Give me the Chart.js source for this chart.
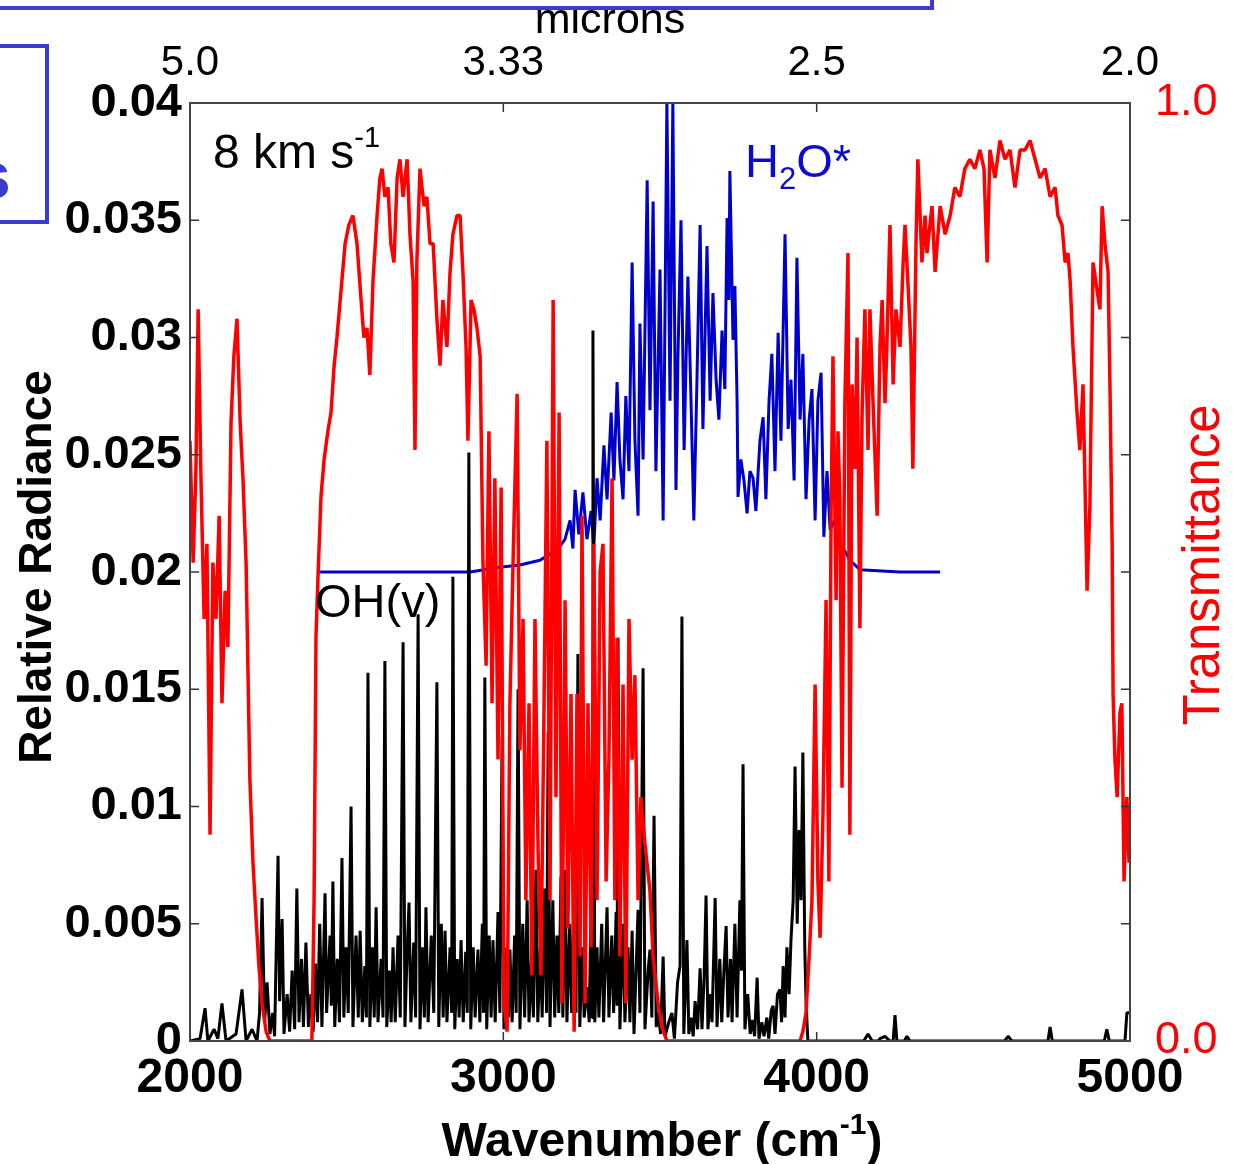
<!DOCTYPE html>
<html>
<head>
<meta charset="utf-8">
<script src="https://cdn.jsdelivr.net/npm/chart.js"></script>
<style>
  html, body { margin: 0; padding: 0; background: #fff; }
  #wrap { width: 1233px; height: 1164px; }
</style>
</head>
<body>
<div id="wrap"><canvas id="spec" width="1233" height="1164"></canvas></div>
<script>
// Transmittance (red, right axis)
var transWn = [2000,2010,2019,2026,2035,2045,2054,2064,2073,2083,2093,2102,2112,2121,2131,2140,2150,2160,2169,2179,
  2191,2201,2211,2220,2230,2243,2255,2319,2389,2396,2402,2409,2418,2428,2440,2450,2460,2469,2482,2495,
  2507,2520,2533,2546,2555,2565,2574,2584,2597,2606,2613,2622,2632,2641,2651,2661,2670,2680,2693,2702,
  2712,2718,2724,2734,2747,2756,2766,2776,2788,2798,2807,2820,2830,2839,2852,2862,2871,2881,2887,2897,
  2906,2916,2926,2935,2945,2954,2964,2973,2983,2993,3002,3012,3021,3031,3044,3053,3063,3072,3082,3091,
  3101,3111,3120,3130,3139,3149,3159,3168,3178,3187,3197,3206,3216,3226,3235,3245,3251,3261,3270,3280,
  3289,3299,3309,3318,3328,3337,3347,3356,3363,3372,3382,3391,3401,3411,3420,3430,3439,3452,3468,3478,
  3494,3506,3522,3947,3956,3966,3976,3985,3995,4004,4011,4020,4030,4039,4046,4052,4062,4068,4074,4081,
  4090,4100,4106,4113,4122,4129,4138,4145,4154,4164,4170,4180,4193,4202,4209,4218,4224,4234,4244,4253,
  4266,4276,4282,4291,4301,4307,4317,4323,4336,4346,4352,4368,4378,4394,4410,4426,4441,4457,4473,4489,
  4505,4521,4534,4544,4553,4569,4585,4601,4617,4633,4649,4665,4681,4697,4713,4729,4745,4761,4770,4783,
  4793,4802,4809,4818,4831,4840,4850,4856,4863,4872,4882,4895,4904,4911,4920,4930,4936,4943,4946,4952,
  4959,4968,4974,4981,4990,4997];
var transVal = [0.64,0.51,0.61,0.78,0.60,0.45,0.53,0.22,0.51,0.45,0.56,0.36,0.48,0.42,0.66,0.73,0.77,0.66,0.60,0.51,
  0.28,0.19,0.13,0.08,0.04,0.01,0.0,0.0,0.0,0.15,0.43,0.50,0.58,0.62,0.65,0.67,0.72,0.75,0.80,0.85,
  0.87,0.88,0.85,0.79,0.75,0.76,0.71,0.81,0.88,0.92,0.93,0.90,0.91,0.85,0.83,0.92,0.94,0.90,0.94,0.86,
  0.81,0.63,0.83,0.93,0.89,0.90,0.85,0.85,0.77,0.72,0.79,0.74,0.82,0.86,0.88,0.88,0.82,0.74,0.64,0.79,
  0.78,0.76,0.73,0.51,0.40,0.65,0.36,0.60,0.30,0.59,0.04,0.01,0.36,0.51,0.69,0.31,0.45,0.15,0.36,0.07,
  0.45,0.20,0.07,0.36,0.64,0.15,0.79,0.26,0.67,0.04,0.47,0.12,0.37,0.01,0.37,0.09,0.56,0.04,0.36,0.10,
  0.53,0.15,0.50,0.53,0.17,0.30,0.60,0.15,0.43,0.09,0.38,0.04,0.45,0.30,0.39,0.15,0.26,0.21,0.16,0.09,
  0.04,0.015,0.0,0.0,0.01,0.03,0.09,0.15,0.38,0.17,0.11,0.24,0.47,0.17,0.56,0.73,0.47,0.65,0.58,0.27,
  0.68,0.84,0.22,0.70,0.61,0.75,0.44,0.67,0.78,0.63,0.78,0.68,0.56,0.74,0.79,0.68,0.74,0.87,0.70,0.78,
  0.74,0.83,0.87,0.81,0.74,0.61,0.85,0.94,0.83,0.88,0.84,0.89,0.82,0.89,0.86,0.88,0.91,0.90,0.93,0.94,
  0.93,0.95,0.93,0.83,0.95,0.92,0.96,0.94,0.95,0.91,0.95,0.95,0.96,0.94,0.92,0.93,0.90,0.91,0.88,0.87,
  0.83,0.84,0.81,0.74,0.67,0.63,0.70,0.60,0.48,0.57,0.83,0.80,0.78,0.89,0.85,0.82,0.70,0.53,0.37,0.30,
  0.26,0.35,0.36,0.17,0.26,0.19];

// H2O* emission (blue, left axis)
var h2oWn = [2405,2894,2989,3053,3117,3165,3181,3197,3213,3222,3229,3241,3254,3267,3280,3289,3299,3309,3321,3331,
  3344,3353,3363,3372,3382,3391,3401,3411,3420,3430,3436,3446,3459,3468,3478,3487,3500,3510,3522,3532,
  3541,3551,3557,3567,3577,3589,3599,3608,3618,3628,3637,3650,3660,3669,3679,3688,3698,3707,3714,3720,
  3723,3733,3739,3746,3749,3758,3768,3778,3787,3797,3806,3819,3829,3838,3848,3857,3867,3877,3886,3899,
  3909,3918,3928,3937,3947,3956,3966,3976,3985,3995,4004,4014,4023,4033,4043,4058,4074,4090,4106,4122,
  4138,4266,4394];
var h2oRad = [0.0200,0.0200,0.0202,0.0203,0.0205,0.0209,0.0211,0.0214,0.0222,0.0210,0.0235,0.0216,0.0234,0.0214,0.0226,0.0211,0.0240,0.0222,0.0254,0.0231,
  0.0268,0.0239,0.0281,0.0248,0.0231,0.0275,0.0243,0.0332,0.0256,0.0224,0.0306,0.0248,0.0367,0.0269,0.0358,0.0243,0.0329,0.0222,0.0400,0.0273,
  0.0400,0.0235,0.0290,0.0350,0.0252,0.0326,0.0273,0.0222,0.0282,0.0348,0.0261,0.0339,0.0273,0.0319,0.0282,0.0265,0.0303,0.0278,0.0351,0.0316,
  0.0371,0.0299,0.0322,0.0273,0.0232,0.0248,0.0239,0.0225,0.0243,0.0240,0.0226,0.0256,0.0266,0.0231,0.0273,0.0293,0.0243,0.0302,0.0256,0.0344,
  0.0261,0.0282,0.0239,0.0334,0.0265,0.0293,0.0231,0.0265,0.0278,0.0222,0.0273,0.0285,0.0215,0.0243,0.0218,0.0222,0.0211,0.0209,0.0205,0.0203,
  0.0201,0.0200,0.0200];

// OH(v) emission (black, left axis)
var ohWn = [2000,2032,2048,2057,2077,2089,2102,2115,2147,2166,2179,2198,2214,2222,2230,2238,2246,2255,2264,2270,
  2281,2286,2294,2300,2310,2318,2326,2334,2341,2348,2356,2362,2370,2378,2386,2393,2400,2407,2414,2421,
  2431,2436,2447,2451,2456,2462,2470,2477,2485,2491,2498,2505,2514,2520,2530,2537,2543,2550,2558,2563,
  2568,2574,2582,2588,2594,2600,2610,2616,2622,2628,2636,2642,2648,2655,2664,2671,2680,2686,2693,2699,
  2705,2714,2720,2728,2734,2742,2748,2753,2760,2770,2778,2788,2794,2802,2808,2814,2820,2830,2835,2839,
  2845,2853,2859,2865,2872,2880,2885,2890,2896,2904,2910,2919,2925,2933,2937,2941,2947,2955,2961,2967,
  2974,2983,2989,2996,3002,3011,3016,3021,3028,3036,3041,3047,3053,3062,3068,3076,3082,3090,3096,3104,
  3110,3118,3124,3132,3138,3143,3149,3158,3164,3171,3177,3184,3190,3197,3203,3212,3218,3226,3232,3238,
  3244,3252,3258,3267,3274,3280,3283,3286,3292,3299,3305,3314,3320,3331,3337,3346,3352,3360,3363,3366,
  3372,3382,3388,3398,3404,3411,3417,3430,3436,3446,3452,3462,3468,3474,3481,3488,3494,3502,3510,3516,
  3528,3538,3546,3556,3564,3570,3576,3586,3592,3599,3606,3612,3620,3628,3634,3641,3647,3653,3660,3666,
  3676,3682,3691,3697,3704,3711,3717,3725,3730,3739,3746,3755,3760,3765,3771,3780,3788,3794,3802,3810,
  3816,3825,3832,3841,3847,3855,3861,3867,3875,3883,3888,3893,3899,3905,3912,3918,3925,3931,3938,3944,
  3950,3956,3962,3966,3972,4150,4164,4177,4195,4202,4218,4234,4244,4250,4256,4280,4288,4298,4600,4611,
  4623,4738,4745,4752,4918,4926,4934,4984,4990,5000];
var ohRad = [0,0.0001,0.0014,0,0.0005,0.0001,0.0016,0,0.0003,0.0022,0,0.0005,0,0.0012,0.0061,0.0008,0.0025,0.0003,0.0012,0.0002,
  0.0079,0.0017,0.0052,0.0003,0.0020,0.0004,0.0030,0.0005,0.0065,0.0008,0.0035,0.0006,0.0042,0.0006,0.0020,0.0004,0.0033,0.0008,0.0050,0.0006,
  0.0063,0.0012,0.0045,0.0015,0.0068,0.0006,0.0035,0.0008,0.0078,0.0010,0.0040,0.0012,0.0100,0.0006,0.0045,0.0010,0.0047,0.0008,0.0032,0.0010,
  0.0157,0.0006,0.0040,0.0010,0.0057,0.0008,0.0035,0.0010,0.0162,0.0006,0.0030,0.0008,0.0040,0.0008,0.0045,0.0010,0.0170,0.0006,0.0038,0.0059,
  0.0008,0.0042,0.0010,0.0182,0.0005,0.0040,0.0010,0.0057,0.0008,0.0045,0.0012,0.0153,0.0006,0.0050,0.0010,0.0047,0.0008,0.0040,0.0012,0.0198,
  0.0005,0.0035,0.0010,0.0043,0.0008,0.0038,0.0012,0.0251,0.0005,0.0040,0.0010,0.0039,0.0008,0.0050,0.0012,0.0155,0.0005,0.0045,0.0010,0.0043,
  0.0008,0.0055,0.0012,0.0130,0.0005,0.0040,0.0010,0.0039,0.0008,0.0045,0.0012,0.0150,0.0005,0.0050,0.0010,0.0060,0.0008,0.0035,0.0010,0.0073,
  0.0008,0.0040,0.0010,0.0065,0.0012,0.0132,0.0006,0.0060,0.0010,0.0045,0.0012,0.0070,0.0010,0.0073,0.0008,0.0050,0.0012,0.0060,0.0012,0.0165,
  0.0006,0.0040,0.0010,0.0023,0.0008,0.0060,0.0010,0.0303,0.0008,0.0040,0.0010,0.0050,0.0008,0.0057,0.0010,0.0045,0.0012,0.0055,0.0015,0.0172,
  0.0005,0.0050,0.0008,0.0040,0.0008,0.0047,0.0003,0.0056,0.0012,0.0159,0.0005,0.0030,0.0039,0.0010,0.0096,0.0006,0.0012,0.0003,0.0036,0.0002,
  0.0008,0.0012,0.0001,0.0025,0.0032,0.0181,0.0003,0.0043,0.0003,0.0010,0.0002,0.0017,0.0005,0.0031,0.0005,0.0028,0.0062,0.0005,0.0020,0.0008,
  0.0061,0.0006,0.0035,0.0008,0.0030,0.0049,0.0010,0.0035,0.0008,0.0050,0.0010,0.0060,0.0030,0.0118,0.0005,0.0020,0.0003,0.0009,0.0002,0.0027,
  0.0001,0.0008,0.0002,0.0010,0.0001,0.0013,0.0015,0.0003,0.0020,0.0022,0.0008,0.0032,0.0010,0.0040,0.0020,0.0043,0.0060,0.0117,0.0050,0.0090,
  0.0060,0.0123,0.0040,0.0017,0,0,0.0003,0,0,0.0001,0.0002,0,0,0.0011,0,0,0.0002,0,0,0.0002,
  0,0,0.0006,0,0,0.0005,0,0,0.0012,0.0012];

// top axis: wavelength in microns at these wavenumbers
var micronTickWn = [2000, 3000, 4000, 5000];
var micronTickLabels = ['5.0', '3.33', '2.5', '2.0'];

function pairs(xs, ys) {
    return xs.map(function(x, i) { return { x: x, y: ys[i] }; });
}

var FONT = '"Liberation Sans", Arial, sans-serif';
var BLUE_BOX = '#3b3bd0';

// text with super/subscript pieces
function drawRich(ctx, parts, x, y, align) {
    var total = 0;
    parts.forEach(function(p) {
        ctx.font = (p.bold ? 'bold ' : '') + p.size + 'px ' + FONT;
        p.w = ctx.measureText(p.t).width;
        total += p.w;
    });
    var cx = align === 'center' ? x - total / 2 : x;
    parts.forEach(function(p) {
        ctx.font = (p.bold ? 'bold ' : '') + p.size + 'px ' + FONT;
        ctx.fillText(p.t, cx, y + (p.dy || 0));
        cx += p.w;
    });
}

var decor = {
    id: 'decor',
    afterDraw: function(chart) {
        var ctx = chart.ctx;
        var a = chart.chartArea;
        ctx.save();

        // inward tick marks
        ctx.strokeStyle = '#333';
        ctx.lineWidth = 1.5;
        var sc = chart.scales;
        ctx.beginPath();
        sc.y.ticks.forEach(function(t) {
            var py = sc.y.getPixelForValue(t.value);
            ctx.moveTo(a.left, py); ctx.lineTo(a.left + 9, py);
        });
        sc.y2.ticks.forEach(function(t) {
            var py = sc.y2.getPixelForValue(t.value);
            ctx.moveTo(a.right, py); ctx.lineTo(a.right - 9, py);
        });
        sc.x.ticks.forEach(function(t) {
            var px = sc.x.getPixelForValue(t.value);
            ctx.moveTo(px, a.bottom); ctx.lineTo(px, a.bottom - 9);
        });
        sc.x2.ticks.forEach(function(t) {
            var px = sc.x2.getPixelForValue(t.value);
            ctx.moveTo(px, a.top); ctx.lineTo(px, a.top + 9);
        });
        ctx.stroke();

        // plot frame
        ctx.strokeStyle = '#444';
        ctx.lineWidth = 2;
        ctx.strokeRect(a.left, a.top, a.right - a.left, a.bottom - a.top);

        // labels inside the plot
        ctx.textBaseline = 'alphabetic';
        ctx.textAlign = 'left';
        ctx.fillStyle = '#000';
        drawRich(ctx, [{ t: '8 km s', size: 48 }, { t: '-1', size: 29, dy: -21 }], 213, 168);
        ctx.fillStyle = '#0a0ad2';
        drawRich(ctx, [{ t: 'H', size: 47 }, { t: '2', size: 31, dy: 12 }, { t: 'O*', size: 47 }], 745, 177);
        ctx.fillStyle = '#000';
        drawRich(ctx, [{ t: 'OH(v)', size: 47 }], 315, 617);

        // axis titles
        drawRich(ctx, [{ t: 'Wavenumber (cm', size: 48, bold: true },
                       { t: '-1', size: 30, bold: true, dy: -22 },
                       { t: ')', size: 48, bold: true }], 662, 1156, 'center');
        drawRich(ctx, [{ t: 'microns', size: 43 }], 610, 33, 'center');

        ctx.save();
        ctx.translate(51, 567);
        ctx.rotate(-Math.PI / 2);
        drawRich(ctx, [{ t: 'Relative Radiance', size: 46, bold: true }], 0, 0, 'center');
        ctx.restore();

        ctx.save();
        ctx.translate(1219, 565);
        ctx.rotate(-Math.PI / 2);
        ctx.fillStyle = '#ff0000';
        drawRich(ctx, [{ t: 'Transmittance', size: 51 }], 0, 0, 'center');
        ctx.restore();

        // slide frame pieces around the figure
        ctx.fillStyle = '#fff';
        ctx.fillRect(0, 0, 934, 7);
        ctx.strokeStyle = BLUE_BOX;
        ctx.lineWidth = 4;
        ctx.beginPath();
        ctx.moveTo(0, 8); ctx.lineTo(932, 8); ctx.lineTo(932, 0);
        ctx.stroke();
        ctx.strokeRect(-10, 46, 57, 176);
        ctx.fillStyle = BLUE_BOX;
        ctx.font = 'bold 66px ' + FONT;
        ctx.fillText('s', -26, 198);

        ctx.restore();
    }
};

new Chart(document.getElementById('spec').getContext('2d'), {
    type: 'line',
    data: {
        datasets: [{
            label: 'Transmittance',
            data: pairs(transWn, transVal),
            yAxisID: 'y2',
            borderColor: '#ff0000',
            borderWidth: 3.5,
            order: 0
        }, {
            label: 'OH(v)',
            data: pairs(ohWn, ohRad),
            yAxisID: 'y',
            borderColor: '#000000',
            borderWidth: 3,
            order: 1
        }, {
            label: 'H2O*',
            data: pairs(h2oWn, h2oRad),
            yAxisID: 'y',
            borderColor: '#0000cc',
            borderWidth: 3,
            order: 2
        }]
    },
    options: {
        responsive: false,
        animation: false,
        layout: { padding: 0 },
        elements: {
            point: { radius: 0 },
            line: { tension: 0, borderJoinStyle: 'bevel' }
        },
        plugins: {
            legend: { display: false },
            tooltip: { enabled: false }
        },
        scales: {
            x: {
                type: 'linear', position: 'bottom', min: 2000, max: 5000,
                grid: { display: false, drawTicks: false }, border: { display: false },
                ticks: { stepSize: 1000, padding: 9, color: '#000', maxRotation: 0, autoSkip: false,
                         font: { family: FONT, size: 48, weight: 'bold' },
                         callback: function(v) { return String(v); } },
                afterFit: function(s) { s.height = 123; }
            },
            x2: {
                type: 'linear', position: 'top', min: 2000, max: 5000,
                grid: { display: false, drawTicks: false }, border: { display: false },
                afterBuildTicks: function(s) {
                    s.ticks = micronTickWn.map(function(v) { return { value: v }; });
                },
                ticks: { padding: 14, color: '#000', maxRotation: 0, autoSkip: false,
                         font: { family: FONT, size: 42 },
                         callback: function(v) {
                             var i = micronTickWn.indexOf(v);
                             return i >= 0 ? micronTickLabels[i] : '';
                         } },
                afterFit: function(s) { s.height = 103; }
            },
            y: {
                type: 'linear', position: 'left', min: 0, max: 0.04,
                grid: { display: false, drawTicks: false }, border: { display: false },
                ticks: { stepSize: 0.005, padding: 8, color: '#000', autoSkip: false,
                         font: { family: FONT, size: 47, weight: 'bold' },
                         callback: function(v) { return String(+v.toFixed(3)); } },
                afterFit: function(s) { s.width = 190; }
            },
            y2: {
                type: 'linear', position: 'right', min: 0, max: 1,
                grid: { display: false, drawTicks: false }, border: { display: false },
                ticks: { stepSize: 0.125, padding: 25, color: '#ff0000', autoSkip: false,
                         font: { family: FONT, size: 45 },
                         callback: function(v) { return (v === 0 || v === 1) ? v.toFixed(1) : ''; } },
                afterFit: function(s) { s.width = 103; }
            }
        }
    },
    plugins: [decor]
});
</script>
</body>
</html>
